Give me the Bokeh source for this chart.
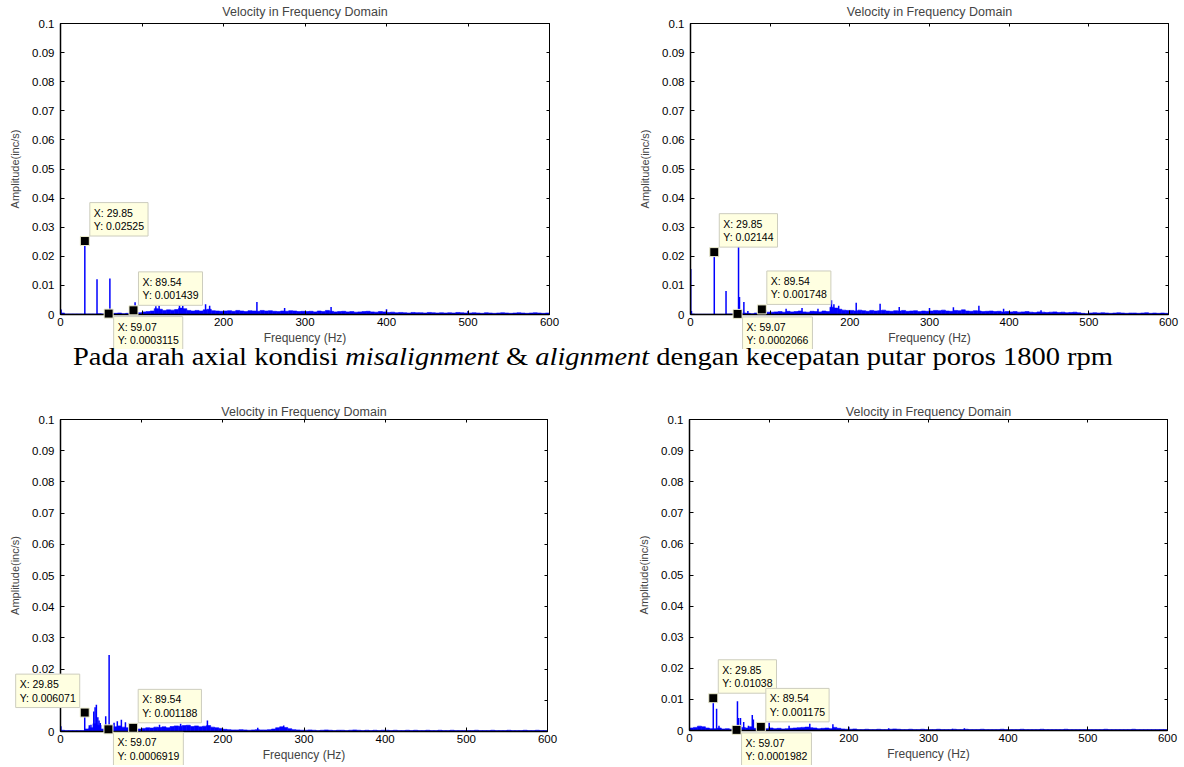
import html
from bokeh.plotting import figure
from bokeh.models import Range1d, LinearAxis, FixedTicker, Div
from bokeh.core.properties import value
from bokeh.layouts import column, row
from bokeh.embed import file_html
from bokeh.resources import INLINE

# ---------------- data ----------------
AMP_UNIT = 1e-4          # floor values are written in units of 1e-4 in/s
BIN_HZ = 5.0             # width of one floor bin (Hz)

x_ticks = [0, 100, 200, 300, 400, 500, 600]
x_tick_labels = ["0", "100", "200", "300", "400", "500", "600"]
y_ticks = [0, 0.01, 0.02, 0.03, 0.04, 0.05, 0.06, 0.07, 0.08, 0.09, 0.1]
y_tick_labels = ["0", "0.01", "0.02", "0.03", "0.04", "0.05", "0.06", "0.07", "0.08", "0.09", "0.1"]

title_text = "Velocity in Frequency Domain"
x_label = "Frequency (Hz)"
y_label = "Amplitude(inc/s)"
caption_parts = [("Pada arah axial kondisi ", False), ("misalignment", True), (" & ", False),
                 ("alignment", True), (" dengan kecepatan putar poros 1800 rpm", False)]

# panel 1 (top-left)
p1_floor = [5, 2, 2, 2, 2, 2, 2, 2, 2, 3, 2, 2, 3, 4, 5, 3, 4, 5, 5, 6,
            9, 10, 12, 20, 18, 14, 16, 15, 17, 22, 20, 14, 12, 14, 12, 16, 18, 13, 12, 11,
            12, 13, 11, 14, 12, 10, 13, 12, 11, 14, 12, 13, 11, 10, 12, 11, 13, 12, 10, 11,
            10, 11, 9, 12, 10, 14, 11, 9, 10, 11, 9, 10, 8, 9, 10, 11, 9, 8, 10, 9,
            7, 8, 6, 7, 6, 5, 7, 6, 6, 5, 7, 6, 5, 6, 5, 6, 5, 7, 6, 5,
            5, 6, 5, 4, 6, 5, 4, 5, 6, 5, 4, 5, 6, 5, 4, 5, 6, 5, 4, 5]
p1_spike_f = [0.7, 29.85, 44.8, 59.07, 60.6, 89.54, 91.5, 117, 121, 146, 150, 178, 183, 241, 275, 332, 400, 500]
p1_spike_a = [0.0017, 0.02525, 0.0121, 0.0003115, 0.0124, 0.001439, 0.0042, 0.0028, 0.0030, 0.0032,
              0.0030, 0.0035, 0.0030, 0.0043, 0.0022, 0.0026, 0.0018, 0.0012]
p1_tip_x = [29.85, 59.07, 89.54]
p1_tip_y = [0.02525, 0.0003115, 0.001439]

# panel 2 (top-right)
p2_floor = [2, 1, 1, 1, 1, 1, 1, 1, 1, 2, 2, 2, 4, 5, 4, 3, 5, 6, 7, 8,
            8, 9, 10, 8, 11, 9, 10, 12, 9, 8, 11, 10, 9, 12, 10, 25, 22, 18, 15, 14,
            14, 12, 15, 13, 11, 14, 12, 13, 15, 12, 11, 13, 12, 14, 11, 12, 13, 10, 12, 11,
            12, 14, 13, 15, 12, 11, 14, 13, 16, 12, 11, 13, 12, 10, 11, 12, 10, 11, 9, 10,
            9, 10, 8, 9, 10, 8, 7, 9, 8, 7, 8, 9, 7, 8, 6, 7, 8, 6, 4, 3,
            5, 6, 5, 6, 5, 4, 5, 6, 5, 4, 5, 5, 4, 5, 6, 4, 5, 4, 5, 4]
p2_spike_f = [0.3, 1.2, 29.85, 44.6, 59.07, 60.3, 61.5, 67, 72, 89.54, 95, 120, 140, 160, 177, 180, 186,
              208, 238, 262, 300, 330, 362, 393, 440]
p2_spike_a = [0.0156, 0.0012, 0.02144, 0.0081, 0.0002066, 0.0235, 0.006, 0.0043, 0.0012, 0.001748,
              0.0015, 0.0020, 0.0022, 0.0020, 0.0049, 0.0035, 0.0030, 0.0040, 0.0037, 0.0026,
              0.0022, 0.0025, 0.0030, 0.0020, 0.0015]
p2_tip_x = [29.85, 59.07, 89.54]
p2_tip_y = [0.02144, 0.0002066, 0.001748]

# panel 3 (bottom-left)
p3_floor = [4, 3, 3, 3, 3, 3, 8, 12, 25, 20, 8, 10, 6, 15, 18, 14, 12, 8, 6, 8,
            10, 12, 11, 14, 13, 15, 12, 16, 18, 17, 19, 20, 16, 18, 15, 17, 19, 14, 12, 10,
            7, 6, 5, 5, 6, 5, 4, 5, 6, 5, 5, 6, 8, 12, 15, 13, 9, 6, 5, 4,
            4, 5, 4, 3, 4, 5, 4, 3, 4, 4, 3, 4, 5, 4, 3, 4, 3, 4, 3, 4,
            4, 3, 4, 3, 3, 4, 3, 4, 3, 3, 4, 3, 3, 4, 3, 3, 4, 3, 3, 3,
            3, 3, 4, 3, 3, 3, 4, 3, 3, 3, 4, 3, 3, 3, 4, 3, 3, 4, 3, 3]
p3_spike_f = [0.5, 29.85, 35.5, 37.5, 41, 42.6, 44.2, 46, 47.5, 49, 55.7, 59.07, 59.9, 66, 70, 75, 80,
              89.54, 122, 148, 181, 243, 275]
p3_spike_a = [0.0017, 0.006071, 0.0020, 0.0022, 0.0064, 0.0078, 0.0086, 0.0046, 0.0035, 0.0027, 0.0049,
              0.0006919, 0.0245, 0.0028, 0.0033, 0.0038, 0.0030, 0.001188, 0.0022, 0.0025, 0.0035,
              0.0012, 0.0019]
p3_tip_x = [29.85, 59.07, 89.54]
p3_tip_y = [0.006071, 0.0006919, 0.001188]

# panel 4 (bottom-right)
p4_floor = [8, 10, 14, 12, 8, 6, 6, 8, 5, 6, 4, 5, 9, 10, 8, 12, 7, 5, 5, 6,
            8, 6, 7, 5, 6, 7, 8, 9, 10, 11, 9, 8, 6, 7, 8, 6, 10, 7, 5, 4,
            4, 5, 3, 3, 4, 3, 3, 4, 3, 3, 4, 5, 4, 3, 3, 4, 3, 3, 4, 3,
            3, 3, 4, 3, 3, 3, 4, 3, 3, 4, 3, 3, 3, 4, 3, 3, 3, 3, 4, 3,
            3, 3, 3, 4, 3, 3, 3, 3, 4, 3, 3, 3, 3, 3, 4, 3, 3, 3, 3, 3,
            3, 3, 3, 3, 4, 3, 3, 3, 3, 3, 3, 4, 3, 3, 3, 3, 3, 3, 3, 3]
p4_spike_f = [29.85, 34, 37, 59.07, 60.2, 61.5, 64, 68, 74, 78.8, 80.2, 89.54, 100, 125, 151, 180, 200,
              250, 330, 345]
p4_spike_a = [0.01038, 0.0070, 0.0015, 0.0001982, 0.0094, 0.0040, 0.0040, 0.0027, 0.0015, 0.0050,
              0.0035, 0.001175, 0.0025, 0.0015, 0.0022, 0.0020, 0.0012, 0.0007, 0.0006, 0.0007]
p4_tip_x = [29.85, 59.07, 89.54]
p4_tip_y = [0.01038, 0.0001982, 0.001175]

# ---------------- style ----------------
BLUE = "#0000FF"
FONT = "Liberation Sans"
TIP_BG = "#FFFFE1"
TIP_BORDER = "#CDCDBE"


def make_panel(floor, sf, sa, tx, ty, places, fw, fh, bl, br, bt, bb, title_gap):
    p = figure(frame_width=fw, frame_height=fh,
               min_border_left=bl, min_border_right=br, min_border_top=bt, min_border_bottom=bb,
               x_range=Range1d(0, 600), y_range=Range1d(0, 0.1),
               output_backend="svg", toolbar_location=None, tools="")
    p.xgrid.visible = False
    p.ygrid.visible = False
    p.outline_line_color = "black"
    p.background_fill_color = "white"
    p.border_fill_color = "white"

    centers = [BIN_HZ * (i + 0.5) for i in range(len(floor))]
    tops = [v * AMP_UNIT for v in floor]
    p.vbar(x=centers, top=tops, bottom=0, width=BIN_HZ, fill_color=BLUE,
           line_color=BLUE, line_width=0.6)
    p.segment(x0=sf, y0=[0] * len(sf), x1=sf, y1=sa, line_color=BLUE, line_width=1.5)

    xa = p.xaxis[0]
    xa.ticker = FixedTicker(ticks=x_ticks)
    xa.major_label_overrides = dict(zip(x_ticks, x_tick_labels))
    xa.axis_line_width = 1.5
    xa.major_tick_in = 4
    xa.major_tick_out = 0
    xa.minor_tick_line_color = None
    xa.major_label_standoff = 3
    xa.major_label_text_font = FONT
    xa.major_label_text_font_size = "11.5px"
    xa.major_label_text_color = "black"
    xa.axis_label = x_label
    xa.axis_label_standoff = 2
    xa.axis_label_text_font = FONT
    xa.axis_label_text_font_size = "12px"
    xa.axis_label_text_font_style = "normal"

    ya = p.yaxis[0]
    ya.ticker = FixedTicker(ticks=y_ticks)
    ya.major_label_overrides = dict(zip(y_ticks, y_tick_labels))
    ya.axis_line_width = 1.5
    ya.major_tick_in = 4
    ya.major_tick_out = 0
    ya.minor_tick_line_color = None
    ya.major_label_standoff = 6
    ya.major_label_text_font = FONT
    ya.major_label_text_font_size = "11.5px"
    ya.major_label_text_color = "black"
    ya.axis_label = y_label
    ya.axis_label_standoff = 8
    ya.axis_label_text_font = FONT
    ya.axis_label_text_font_size = "11px"
    ya.axis_label_text_font_style = "normal"

    top_ax = LinearAxis(ticker=FixedTicker(ticks=x_ticks),
                        major_label_overrides={t: "" for t in x_ticks},
                        major_label_text_font_size="1px", major_label_standoff=0,
                        major_tick_in=3, major_tick_out=0, minor_tick_line_color=None,
                        axis_label=title_text, axis_label_standoff=title_gap,
                        axis_label_text_font=FONT, axis_label_text_font_size="12.5px",
                        axis_label_text_font_style="normal")
    p.add_layout(top_ax, "above")
    right_ax = LinearAxis(ticker=FixedTicker(ticks=y_ticks),
                          major_label_overrides={t: "" for t in y_ticks},
                          major_label_text_font_size="1px", major_label_standoff=0,
                          major_tick_in=3, major_tick_out=0, minor_tick_line_color=None)
    p.add_layout(right_ax, "right")

    # MATLAB-style data tips (drawn at overlay level so they may leave the frame)
    anchors = {"tr": "bottom_left", "br": "top_left", "tl": "bottom_right"}
    for x, y, pl in zip(tx, ty, places):
        xo = 5 if pl in ("tr", "br") else -5
        yo = -5 if pl in ("tr", "tl") else 3
        p.text(x=[x], y=[y], text=["X: {:.4g}\nY: {:.4g}".format(x, y)],
               x_offset=xo, y_offset=yo, anchor=value(anchors[pl]),
               text_font=value(FONT), text_font_size="10.5px", text_color="black",
               text_line_height=1.12,
               background_fill_color=TIP_BG, border_line_color=TIP_BORDER,
               border_line_width=1, padding=4, level="overlay")
    p.scatter(x=tx, y=ty, marker="square", size=9, fill_color="black",
              line_color="#EEEED0", line_width=1, level="overlay")
    return p


places_a = ["tr", "br", "tr"]
places_b = ["tl", "br", "tr"]

p1 = make_panel(p1_floor, p1_spike_f, p1_spike_a, p1_tip_x, p1_tip_y, places_a, 489, 291, 60, 71, 22, 36, 5)
p2 = make_panel(p2_floor, p2_spike_f, p2_spike_a, p2_tip_x, p2_tip_y, places_a, 478, 291, 70, 16, 23, 35, 5)
p3 = make_panel(p3_floor, p3_spike_f, p3_spike_a, p3_tip_x, p3_tip_y, places_b, 487, 312, 60, 73, 22, 35, 1)
p4 = make_panel(p4_floor, p4_spike_f, p4_spike_a, p4_tip_x, p4_tip_y, places_a, 478, 311, 69, 17, 23, 35, 1)

cap_html = "".join(("<i>%s</i>" % html.escape(t)) if it else html.escape(t) for t, it in caption_parts)
cap = Div(text=cap_html, width=1184, height=47, margin=(0, 0, 0, 0),
          styles={"font-family": "'Liberation Serif', serif", "font-size": "25px",
                  "line-height": "16px", "padding-left": "64px", "white-space": "nowrap",
                  "overflow": "visible",
                  "color": "black", "transform": "scaleX(1.14)", "transform-origin": "0 0"})

layout = column(row(p1, p2, spacing=0), cap, row(p3, p4, spacing=0), spacing=0)

with open("out.html", "w") as f:
    f.write(file_html(layout, INLINE))
